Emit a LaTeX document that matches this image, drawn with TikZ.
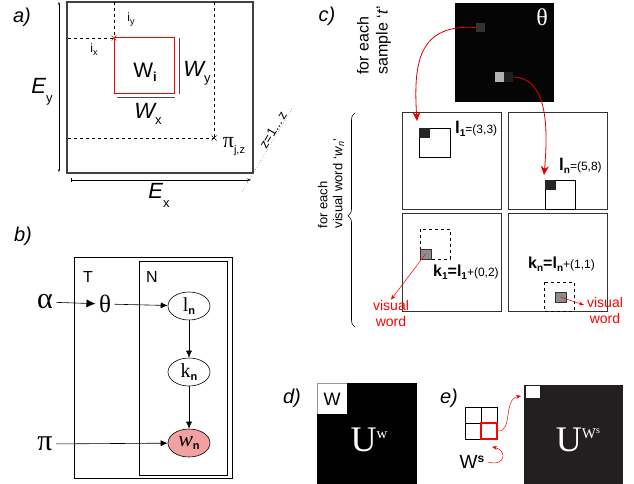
\documentclass[tikz,border=0pt]{standalone}
\usepackage{fontspec}
\setmainfont{Liberation Sans}
\newfontfamily\grfont{Liberation Serif}
\usetikzlibrary{arrows.meta,calc,positioning,shapes.geometric,decorations.pathreplacing}
\newcommand{\fsz}[1]{\fontsize{#1}{#1}\selectfont}
\definecolor{wordpink}{RGB}{242,160,160}
\definecolor{imgdark}{RGB}{35,31,32}

\begin{document}
\begin{tikzpicture}[x=1pt,y=-1pt,
  panel/.style={font=\fsz{20}\itshape},
  latent/.style={ellipse, draw, line width=0.6pt, minimum width=42pt, minimum height=28pt, inner sep=1pt},
  edge/.style={-{Latex[length=7pt,width=6pt]}, line width=0.6pt},
  redarr/.style={red!90!black, line width=0.8pt, -{Stealth[length=9pt,width=8pt]}},
  thinred/.style={red, line width=0.5pt, -{Stealth[length=5pt,width=4pt]}},
  frame/.style={draw=black!80, line width=0.8pt},
  word/.style={red, font=\fontsize{14}{16}\selectfont, align=center, inner sep=0pt},
  pixel/.style={inner sep=0pt, minimum size=#1}]
  \useasboundingbox (0,0) rectangle (634,484);

  % a) window on the image
  \node[panel] (pa) at (22,17) {a)};
  \draw[line width=1.2pt, black!75] (67,2) rectangle (253,173);
  \draw[{Stealth[length=3pt]}-{Stealth[length=3pt]}, line width=0.6pt] (59,2) -- (59,172);
  \draw[{Bar[width=4pt]}-{Stealth[length=4pt]}, line width=0.6pt] (71,180) -- (251,180);
  \node[font=\fsz{22}\itshape] (ey) at (42,92) {E\raisebox{-9pt}{\fsz{13}\upshape y}};
  \node[font=\fsz{22}\itshape] (ex) at (159,195) {E\raisebox{-9pt}{\fsz{13}\upshape x}};
  % window corner and offsets
  \draw[dashed, line width=0.6pt] (68,38) -- (114,38);
  \draw[dashed, line width=0.6pt] (114,2) -- (114,38);
  \draw[red, line width=0.7pt] (111.5,35.5) -- (116.5,40.5) (111.5,40.5) -- (116.5,35.5);
  \node[font=\fsz{12}] (iy) at (131,20) {i\raisebox{-3pt}{\fsz{9}y}};
  \node[font=\fsz{12}] (ix) at (94,50) {i\raisebox{-3pt}{\fsz{9}x}};
  \draw[red, line width=1pt] (114.5,38) rectangle (174,94);
  \node[font=\fsz{21}] (wi) at (145,72) {W\raisebox{-4pt}{\fsz{13}\bfseries i}};
  \draw[black!70, line width=1pt] (179,38) -- (179,94);
  \draw[black!70, line width=1pt] (117,98) -- (175,98);
  \node[font=\fsz{22}\itshape] (wy) at (197,73) {W\raisebox{-6pt}{\fsz{13}\upshape y}};
  \node[font=\fsz{22}\itshape] (wx) at (148,114) {W\raisebox{-6pt}{\fsz{13}\upshape x}};
  % sampled position
  \draw[dashed, line width=0.6pt] (68,138) -- (214,138);
  \draw[dashed, line width=0.6pt] (214,2) -- (214,138);
  \draw[line width=0.7pt] (211.5,135.5) -- (216.5,140.5) (211.5,140.5) -- (216.5,135.5);
  \node[font=\fsz{22}] (pjz) at (234,147) {{\grfont π}\raisebox{-6pt}{\fsz{11}j,z}};
  \draw[dotted, gray, line width=0.6pt] (242,192) -- (293,107);
  \node[rotate=59, font=\fsz{13}] (zz) at (273,130) {z=1...\,z};

  % b) plate model
  \node[panel] (pb) at (23,236) {b)};
  \draw[line width=0.6pt] (74,257) rectangle (232,478);
  \draw[line width=0.6pt] (139,261) rectangle (227,475);
  \node[font=\fsz{16}] (plT) at (88,277) {T};
  \node[font=\fsz{16}] (plN) at (152,277) {N};
  \node[font=\grfont\fsz{30}] (alpha) at (45,302) {α};
  \node[font=\grfont\fsz{25}] (theta) at (105,304) {θ};
  \node[latent] (ln) at (189,306) {{\grfont\fsz{20}l}\raisebox{-3pt}{\fsz{11}\bfseries n}};
  \node[latent] (kn) at (189,372) {{\grfont\fsz{20}k}\raisebox{-3pt}{\fsz{11}\bfseries n}};
  \node[latent, fill=wordpink] (wn) at (189,443) {{\grfont\itshape\fsz{22}w}\raisebox{-3pt}{\fsz{11}\bfseries n}};
  \node[font=\grfont\fsz{30}] (pi) at (45,444) {π};
  \draw[edge, -{Latex[length=9pt,width=8pt]}] (alpha) -- (theta);
  \draw[edge] (theta) -- (ln);
  \draw[edge] (ln) -- (kn);
  \draw[edge] (kn) -- (wn);
  \draw[edge] (pi) -- (wn);

  % c) sampling theta
  \node[panel] (pc) at (327,16) {c)};
  \fill[black!98] (455,3) rectangle (554,102);
  \node[white, font=\grfont\fsz{24}] (thimg) at (542,17) {θ};
  \node[pixel=9pt, fill=black!80] (p1) at (480.5,27.5) {};
  \node[pixel=9.5pt, fill=black!30] (p2) at (499.5,77) {};
  \node[pixel=9.5pt, fill=black!88] (p3) at (508.5,77) {};
  \node[rotate=90, align=left, anchor=west, font=\fontsize{16}{19}\selectfont] (fes) at (374,78) {for each\\sample `\textit{t}'};
  \coordinate (t1) at (417,121);
  \coordinate (t2) at (544,175);
  \draw[redarr] (p1.west) .. controls (420,24) and (413,60) .. (t1);
  \draw[redarr] (p3.east) .. controls (545,78) and (549,120) .. (t2);
  % the four visual words
  \draw[frame] (402,112) rectangle (501,209);
  \draw[frame] (508,112) rectangle (607,209);
  \draw[frame] (402,213) rectangle (501,311);
  \draw[frame] (508,213) rectangle (607,311);
  \draw[line width=0.7pt] (419,128) rectangle (450,157);
  \fill[black!85] (419,128) rectangle (430,138);
  \draw[line width=0.7pt] (545,180) rectangle (575,209);
  \fill[black!85] (545,180) rectangle (556,190);
  \node[anchor=base west, inner sep=0pt] (l1) at (455,133) {\fsz{17}\bfseries l\raisebox{-3pt}{\fsz{10}1}\mdseries\fsz{12}=(3,3)};
  \node[anchor=base west, inner sep=0pt] (lnn) at (559,170) {\fsz{17}\bfseries l\raisebox{-3pt}{\fsz{10}n}\mdseries\fsz{12}=(5,8)};
  \draw[dashed, line width=0.6pt] (420,229) rectangle (450,259);
  \node[pixel=10.5pt, fill=black!45, draw=black!80] (g1) at (425.5,254) {};
  \draw[dashed, line width=0.6pt] (544,282) rectangle (574,311);
  \node[pixel=10.5pt, fill=black!45, draw=black!80] (g2) at (560.5,297) {};
  \node[anchor=base west, inner sep=0pt] (k1) at (433,276) {\fsz{16}\bfseries k\raisebox{-3pt}{\fsz{10}1}=l\raisebox{-3pt}{\fsz{10}1}\mdseries\fsz{12}+(0,2)};
  \node[anchor=base west, inner sep=0pt] (knn) at (528,268) {\fsz{16}\bfseries k\raisebox{-3pt}{\fsz{10}n}=l\raisebox{-3pt}{\fsz{10}n}\mdseries\fsz{12}+(1,1)};
  \node[word] (vw1) at (391,313) {visual\\word};
  \node[word] (vw2) at (605,310) {visual\\word};
  \draw[thinred] (g1.center) -- (vw1.north);
  \draw[thinred] (g2.center) -- ($(vw2.west)+(-3,-5)$);
  \draw[decorate, decoration={brace, amplitude=7pt, aspect=0.52}, line width=0.6pt] (355,327) -- (355,113);
  \node[rotate=90, align=left, anchor=west, font=\fontsize{13}{15}\selectfont] (few) at (331,232) {for each\\visual word `\textit{w}\textsubscript{\textit{n}}'};

  % d) word image
  \node[panel] (pd) at (292,398) {d)};
  \fill[black] (317,383) rectangle (417,484);
  \fill[white] (317,383) rectangle (347,414);
  \draw[black!40, line width=0.6pt] (317,414) -- (317,383) -- (347,383);
  \node[font=\fsz{18}] (w) at (332,399) {W};
  \node[white, font=\grfont\fsz{36}] (uw) at (369,440) {U\raisebox{13pt}{\fsz{15}w}};

  % e) shifted word image
  \node[panel] (pe) at (449,398) {e)};
  \draw[line width=0.6pt] (465,407) rectangle (497,439);
  \draw[line width=0.6pt] (481,407) -- (481,439) (465,423) -- (497,423);
  \node[pixel=16pt, draw=red, line width=1.8pt] (rs) at (489,431) {};
  \fill[imgdark] (524,385) rectangle (623,484);
  \fill[white] (526,386) rectangle (540,398);
  \node[white, font=\grfont\fsz{36}] (uws) at (578,440) {U\raisebox{13pt}{\fsz{15}W\raisebox{5pt}{\fsz{10}s}}};
  \node[font=\fsz{19}] (ws) at (472,462) {W\raisebox{6pt}{\fsz{12}\bfseries s}};
  \coordinate (ebig) at (521,396);
  \draw[thinred] (rs.east) .. controls (513,432) and (503,399) .. (ebig);
  \draw[thinred] (ws.east) .. controls (506,467) and (507,450) .. ($(rs.south)+(3,7)$);
\end{tikzpicture}
\end{document}
